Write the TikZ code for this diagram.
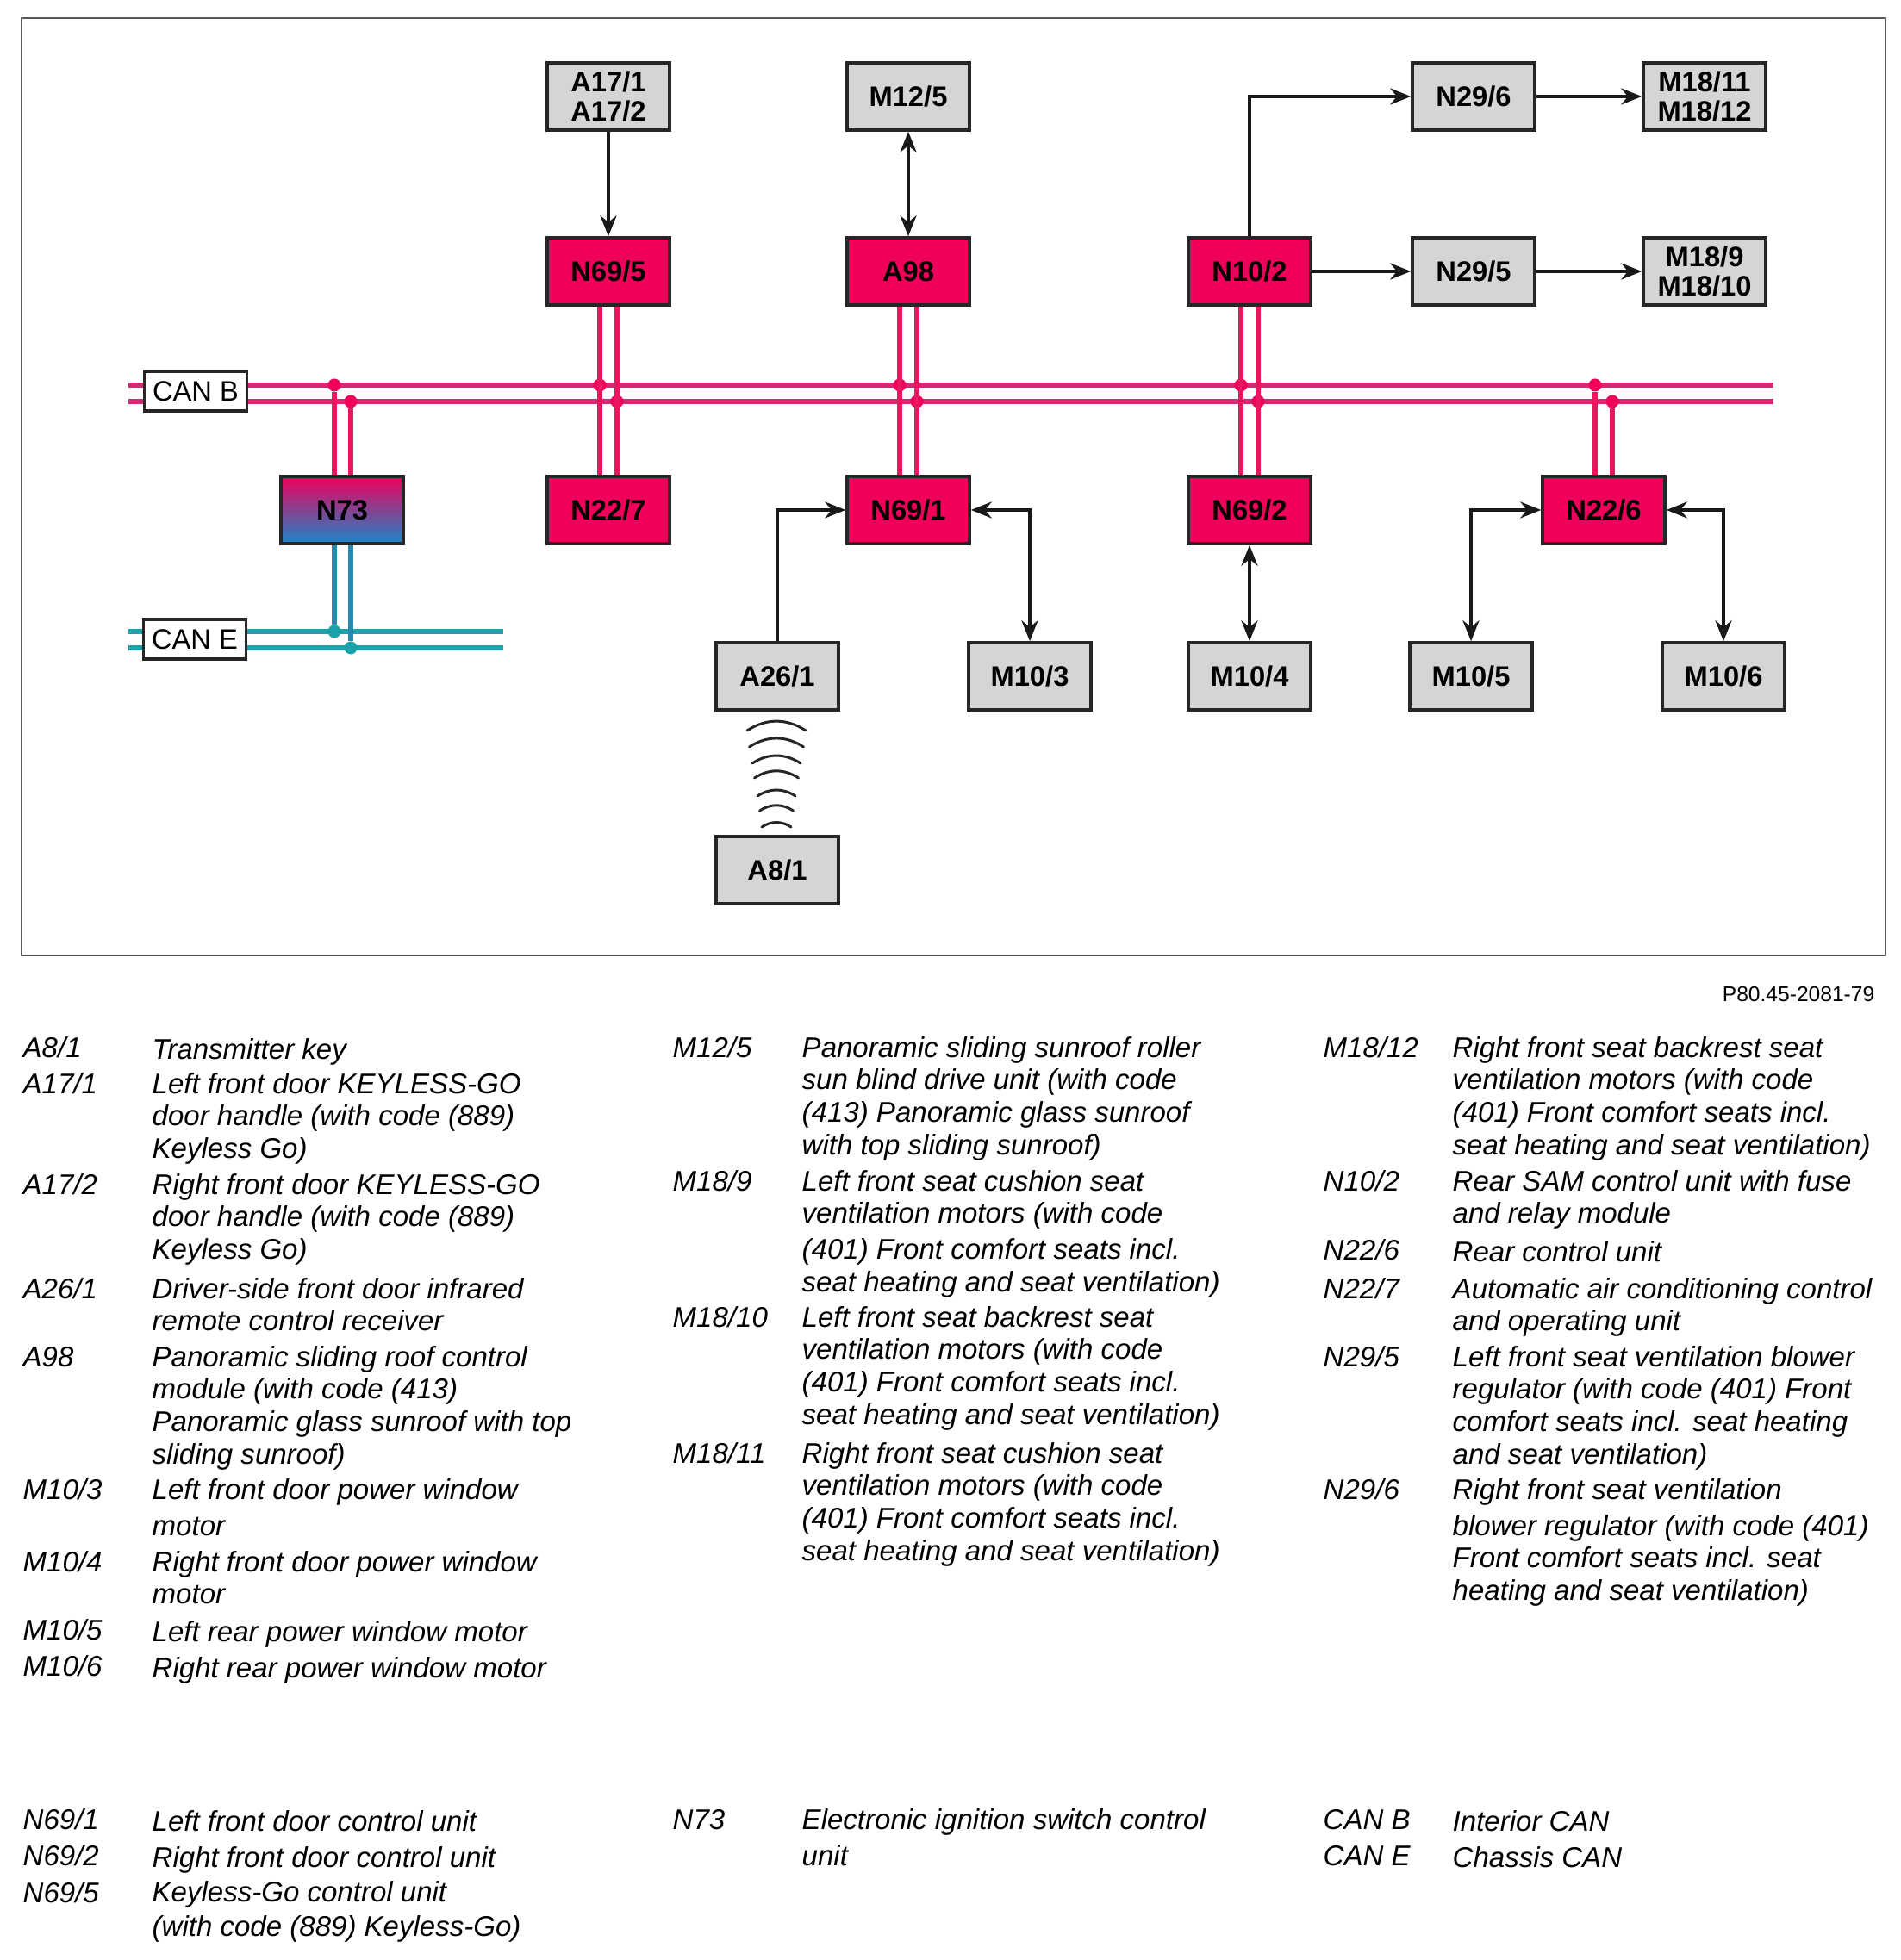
\documentclass[tikz,border=0pt]{standalone}
\usepackage{fontspec}
\setmainfont{Liberation Sans}
\usetikzlibrary{arrows.meta, positioning}
\definecolor{boxpink}{HTML}{EE005B}
\definecolor{boxgray}{HTML}{D5D5D5}
\definecolor{boxblue}{HTML}{1C86C8}
\definecolor{canbbus}{HTML}{D02A72}
\definecolor{canbwire}{HTML}{E8175F}
\definecolor{canebus}{HTML}{1BA3AB}
\definecolor{canewire}{HTML}{2689AE}
\tikzset{
  unitbox/.style={draw=black!85, line width=1pt, minimum width=1.42cm, minimum height=0.78cm,
    inner sep=0pt, align=center, font=\fontsize{9.3}{9.6}\selectfont\bfseries},
  grayunit/.style={unitbox, fill=boxgray},
  pinkunit/.style={unitbox, fill=boxpink},
  canlabel/.style={draw=black!85, fill=white, line width=1pt, minimum width=1.19cm, minimum height=0.46cm,
    inner sep=0pt, font=\fontsize{9.3}{10}\selectfont},
  canbline/.style={canbwire, line width=1.6pt},
  caneline/.style={canewire, line width=1.6pt},
  canbhoriz/.style={canbbus, line width=1.6pt},
  canehoriz/.style={canebus, line width=1.6pt},
  canbdot/.style={circle, fill=boxpink, inner sep=0pt, minimum size=1.5mm},
  canedot/.style={circle, fill=canebus, inner sep=0pt, minimum size=1.5mm},
  link/.style={line width=1.1pt, black!90},
  onetip/.style={link, -{Stealth[length=2.4mm, width=1.9mm]}},
  twotips/.style={link, {Stealth[length=2.4mm, width=1.9mm]}-{Stealth[length=2.4mm, width=1.9mm]}},
  wave/.style={line width=0.85pt, black!85, line cap=round, bend left=33},
  legkey/.style={anchor=base west, yshift=-0.03cm, inner sep=0pt, font=\fontsize{9.4}{10.7}\selectfont\itshape},
  legtxt/.style={anchor=north west, yshift=7.49pt-0.04cm, inner sep=0pt, align=left,
    execute at begin node=\strut, font=\fontsize{9.4}{10.7}\selectfont\itshape},
}
\begin{document}
\begin{tikzpicture}[scale=1.0]
  \useasboundingbox (0,0) rectangle (22.05,22.75);
  % frame
  \draw[black!65, line width=0.5pt] (0.25,11.66) rectangle (21.88,22.54);
  \node[anchor=base east, inner sep=0pt, font=\fontsize{7}{8}\selectfont] (partno) at (21.76,11.12) {P80.45-2081-79};

  \begin{scope}[xshift=0.1mm]
  % upper row
  \node[grayunit] (a171) at (7.05,21.63) {A17/1\\A17/2};
  \node[grayunit] (m125) at (10.53,21.63) {M12/5};
  \node[grayunit] (n296) at (17.09,21.63) {N29/6};
  \node[grayunit] (m1811) at (19.77,21.63) {M18/11\\M18/12};
  \node[pinkunit] (n695) at (7.05,19.60) {N69/5};
  \node[pinkunit] (a98) at (10.53,19.60) {A98};
  \node[pinkunit] (n102) at (14.49,19.60) {N10/2};
  \node[grayunit] (n295) at (17.09,19.60) {N29/5};
  \node[grayunit] (m189) at (19.77,19.60) {M18/9\\M18/10};
  % units below the bus
  \node[unitbox, top color=boxpink, bottom color=boxblue] (n73) at (3.96,16.83) {N73};
  \node[pinkunit] (n227) at (7.05,16.83) {N22/7};
  \node[pinkunit] (n691) at (10.53,16.83) {N69/1};
  \node[pinkunit] (n692) at (14.49,16.83) {N69/2};
  \node[pinkunit] (n226) at (18.60,16.83) {N22/6};
  \node[grayunit] (a261) at (9.01,14.90) {A26/1};
  \node[grayunit] (m103) at (11.94,14.90) {M10/3};
  \node[grayunit] (m104) at (14.49,14.90) {M10/4};
  \node[grayunit] (m105) at (17.06,14.90) {M10/5};
  \node[grayunit] (m106) at (19.99,14.90) {M10/6};
  \node[grayunit] (a81) at (9.01,12.65) {A8/1};

  % CAN B
  \coordinate (canbaw) at (1.48,18.28);
  \coordinate (canbae) at (20.57,18.28);
  \coordinate (canbbw) at (1.48,18.09);
  \coordinate (canbbe) at (20.57,18.09);
  \draw[canbhoriz] (canbaw) -- (canbae);
  \draw[canbhoriz] (canbbw) -- (canbbe);
  \node[canlabel] (canb) at (2.26,18.21) {CAN B};
  % CAN E
  \coordinate (caneaw) at (1.48,15.42);
  \coordinate (caneae) at (5.83,15.42);
  \coordinate (canebw) at (1.48,15.23);
  \coordinate (canebe) at (5.83,15.23);
  \draw[canehoriz] (caneaw) -- (caneae);
  \draw[canehoriz] (canebw) -- (canebe);
  \node[canlabel] (cane) at (2.25,15.33) {CAN E};

  % bus junctions
  \node[canbdot] (jn73a) at (3.87,18.28) {};
  \node[canbdot] (jn73b) at (4.06,18.09) {};
  \node[canbdot] (jn695a) at (6.95,18.28) {};
  \node[canbdot] (jn695b) at (7.15,18.09) {};
  \node[canbdot] (jn691a) at (10.43,18.28) {};
  \node[canbdot] (jn691b) at (10.63,18.09) {};
  \node[canbdot] (jn102a) at (14.39,18.28) {};
  \node[canbdot] (jn102b) at (14.59,18.09) {};
  \node[canbdot] (jn226a) at (18.50,18.28) {};
  \node[canbdot] (jn226b) at (18.70,18.09) {};
  \node[canedot] (je73a) at (3.87,15.42) {};
  \node[canedot] (je73b) at (4.06,15.23) {};

  % wires to the bus
  \draw[canbline] (jn73a) -- (n73.north -| jn73a);
  \draw[canbline] (jn73b) -- (n73.north -| jn73b);
  \draw[caneline] (n73.south -| je73a) -- (je73a);
  \draw[caneline] (n73.south -| je73b) -- (je73b);
  \draw[canbline] (n695.south -| jn695a) -- (n227.north -| jn695a);
  \draw[canbline] (n695.south -| jn695b) -- (n227.north -| jn695b);
  \draw[canbline] (a98.south -| jn691a) -- (n691.north -| jn691a);
  \draw[canbline] (a98.south -| jn691b) -- (n691.north -| jn691b);
  \draw[canbline] (n102.south -| jn102a) -- (n692.north -| jn102a);
  \draw[canbline] (n102.south -| jn102b) -- (n692.north -| jn102b);
  \draw[canbline] (jn226a) -- (n226.north -| jn226a);
  \draw[canbline] (jn226b) -- (n226.north -| jn226b);

  % arrows
  \draw[onetip] (a171) -- (n695);
  \draw[twotips] (m125) -- (a98);
  \draw[onetip] (n102.north) |- (n296.west);
  \draw[onetip] (n102) -- (n295);
  \draw[onetip] (n296) -- (m1811);
  \draw[onetip] (n295) -- (m189);
  \draw[onetip] (a261.north) |- (n691.west);
  \draw[twotips] (n691.east) -| (m103.north);
  \draw[twotips] (n692) -- (m104);
  \draw[twotips] (n226.west) -| (m105.north);
  \draw[twotips] (n226.east) -| (m106.north);

  % infrared link
  \draw[wave] (8.66,14.27) to (9.34,14.27);
  \draw[wave] (8.685,14.08) to (9.315,14.08);
  \draw[wave] (8.72,13.89) to (9.28,13.89);
  \draw[wave] (8.745,13.72) to (9.255,13.72);
  \draw[wave] (8.78,13.51) to (9.22,13.51);
  \draw[wave] (8.805,13.34) to (9.195,13.34);
  \draw[wave] (8.83,13.15) to (9.17,13.15);
  \end{scope}

  % legend, left column
  \node[legkey] (ka81) at (0.26,10.50) {A8/1};
  \node[legtxt] (ta81) at (1.76,10.50) {Transmitter key};
  \node[legkey] (ka171) at (0.26,10.08) {A17/1};
  \node[legtxt] (ta171) at (1.76,10.08) {Left front door KEYLESS-GO\\door handle (with code (889)\\Keyless Go)};
  \node[legkey] (ka172) at (0.26,8.91) {A17/2};
  \node[legtxt] (ta172) at (1.76,8.91) {Right front door KEYLESS-GO\\door handle (with code (889)\\Keyless Go)};
  \node[legkey] (ka261) at (0.26,7.70) {A26/1};
  \node[legtxt] (ta261) at (1.76,7.70) {Driver-side front door infrared\\remote control receiver};
  \node[legkey] (ka98) at (0.26,6.91) {A98};
  \node[legtxt] (ta98) at (1.76,6.91) {Panoramic sliding roof control\\module (with code (413)\\Panoramic glass sunroof with top\\sliding sunroof)};
  \node[legkey] (km103) at (0.26,5.37) {M10/3};
  \node[legtxt] (tm103) at (1.76,5.37) {Left front door power window\\[1.2pt]motor};
  \node[legkey] (km104) at (0.26,4.53) {M10/4};
  \node[legtxt] (tm104) at (1.76,4.53) {Right front door power window\\motor};
  \node[legkey] (km105) at (0.26,3.74) {M10/5};
  \node[legtxt] (tm105) at (1.76,3.74) {Left rear power window motor};
  \node[legkey] (km106) at (0.26,3.32) {M10/6};
  \node[legtxt] (tm106) at (1.76,3.32) {Right rear power window motor};
  \node[legkey] (kn691) at (0.26,1.54) {N69/1};
  \node[legtxt] (tn691) at (1.76,1.54) {Left front door control unit};
  \node[legkey] (kn692) at (0.26,1.12) {N69/2};
  \node[legtxt] (tn692) at (1.76,1.12) {Right front door control unit};
  \node[legkey] (kn695) at (0.26,0.70) {N69/5};
  \node[legtxt] (tn695) at (1.76,0.70) {Keyless-Go control unit\\[0.8pt](with code (889) Keyless-Go)};

  % legend, middle column
  \node[legkey] (km125) at (7.80,10.50) {M12/5};
  \node[legtxt] (tm125) at (9.30,10.50) {Panoramic sliding sunroof roller\\sun blind drive unit (with code\\(413) Panoramic glass sunroof\\with top sliding sunroof)};
  \node[legkey] (km189) at (7.80,8.95) {M18/9};
  \node[legtxt] (tm189) at (9.30,8.95) {Left front seat cushion seat\\ventilation motors (with code\\[1.2pt](401) Front comfort seats incl.\\seat heating and seat ventilation)};
  \node[legkey] (km1810) at (7.80,7.37) {M18/10};
  \node[legtxt] (tm1810) at (9.30,7.37) {Left front seat backrest seat\\ventilation motors (with code\\(401) Front comfort seats incl.\\seat heating and seat ventilation)};
  \node[legkey] (km1811) at (7.80,5.79) {M18/11};
  \node[legtxt] (tm1811) at (9.30,5.79) {Right front seat cushion seat\\ventilation motors (with code\\(401) Front comfort seats incl.\\seat heating and seat ventilation)};
  \node[legkey] (kn73) at (7.80,1.54) {N73};
  \node[legtxt] (tn73) at (9.30,1.54) {Electronic ignition switch control\\[1.2pt]unit};

  % legend, right column
  \node[legkey] (km1812) at (15.35,10.50) {M18/12};
  \node[legtxt] (tm1812) at (16.85,10.50) {Right front seat backrest seat\\ventilation motors (with code\\(401) Front comfort seats incl.\\seat heating and seat ventilation)};
  \node[legkey] (kn102) at (15.35,8.95) {N10/2};
  \node[legtxt] (tn102) at (16.85,8.95) {Rear SAM control unit with fuse\\and relay module};
  \node[legkey] (kn226) at (15.35,8.15) {N22/6};
  \node[legtxt] (tn226) at (16.85,8.15) {Rear control unit};
  \node[legkey] (kn227) at (15.35,7.70) {N22/7};
  \node[legtxt] (tn227) at (16.85,7.70) {Automatic air conditioning control\\and operating unit};
  \node[legkey] (kn295) at (15.35,6.91) {N29/5};
  \node[legtxt] (tn295) at (16.85,6.91) {Left front seat ventilation blower\\regulator (with code (401) Front\\comfort seats incl. seat heating\\and seat ventilation)};
  \node[legkey] (kn296) at (15.35,5.37) {N29/6};
  \node[legtxt] (tn296) at (16.85,5.37) {Right front seat ventilation\\[1.2pt]blower regulator (with code (401)\\Front comfort seats incl. seat\\heating and seat ventilation)};
  \node[legkey] (kcanb) at (15.35,1.54) {CAN B};
  \node[legtxt] (tcanb) at (16.85,1.54) {Interior CAN};
  \node[legkey] (kcane) at (15.35,1.12) {CAN E};
  \node[legtxt] (tcane) at (16.85,1.12) {Chassis CAN};
\end{tikzpicture}
\end{document}
